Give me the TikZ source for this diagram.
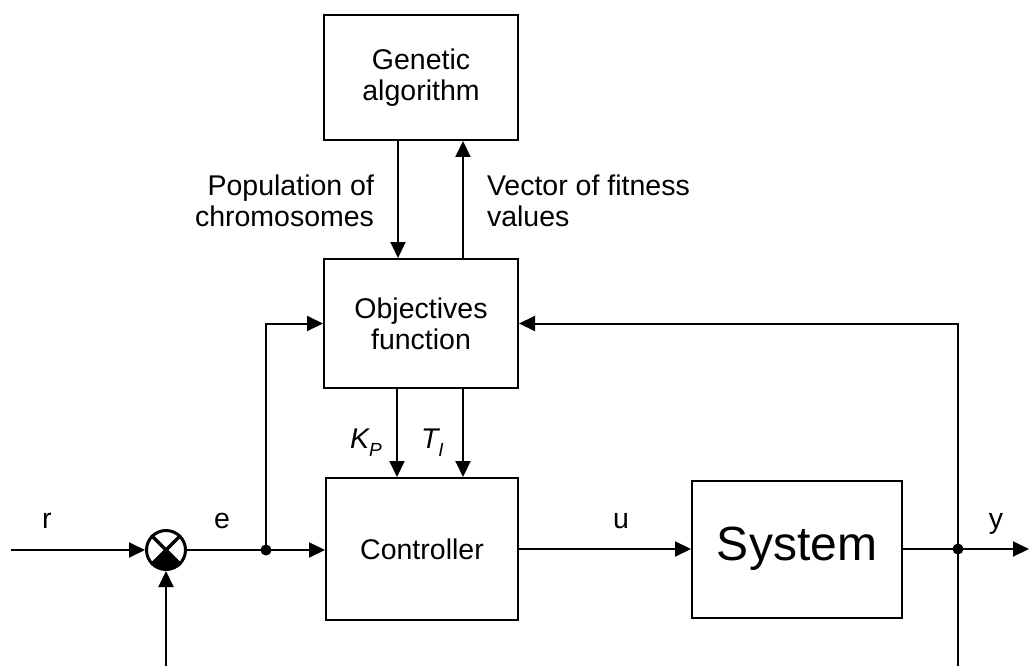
\documentclass[tikz,border=0pt]{standalone}
\usepackage{fontspec}
\setmainfont{Liberation Sans}
\usetikzlibrary{arrows.meta,calc}
\begin{document}
\begin{tikzpicture}[x=1pt,y=-1pt,
  line width=2pt,
  arr/.style={-{Triangle[length=16pt,width=15pt]}},
  blk/.style={draw,line width=2pt,rectangle,inner sep=0pt,align=center,font=\fontsize{28.5}{31}\selectfont},
  lbl/.style={inner sep=0pt,font=\fontsize{28.5}{31}\selectfont},
  dot/.style={circle,fill,inner sep=0pt,minimum size=11pt}]
\useasboundingbox (0,0) rectangle (1029,666);
% blocks
\node[blk,minimum width=194pt,minimum height=125pt] (ga) at (421,77.5) {Genetic\\algorithm};
\node[blk,minimum width=194pt,minimum height=129pt] (obj) at (421,323.5) {Objectives\\function};
\node[blk,minimum width=192pt,minimum height=142pt] (ctrl) at (422,549) {Controller};
\node[blk,minimum width=210pt,minimum height=137pt,font=\fontsize{48}{56}\selectfont] (sys) at (797,549) {System};
% summing junction
\node[circle,draw,line width=3pt,minimum size=39pt,inner sep=0pt] (sum) at (166,550) {};
\fill (sum.center) -- ($(sum.center)+(-45:19.5pt)$) arc[start angle=-45,end angle=-135,radius=19.5pt] -- cycle;
\draw[line width=3.5pt] (sum.north east) -- (sum.south west);
\draw[line width=3.5pt] (sum.north west) -- (sum.south east);
% coordinates
\coordinate (in) at (11,550);
\coordinate (ej) at (266,550);
\coordinate (yj) at (958,549);
\coordinate (out) at (1029,549);
\coordinate (fb1) at (166,666);
\coordinate (fb2) at (958,666);
% connectors
\draw[arr] (in) -- (sum.west);
\draw (sum.east) -- (ej);
\draw[arr] (ej) -- (ej -| ctrl.west);
\draw[arr] (ej) |- (obj.west);
\draw[arr] (ctrl.east |- sys.west) -- (sys.west);
\draw (sys.east) -- (yj);
\draw[arr] (yj) -- (out);
\draw[arr] (yj) |- (obj.east);
\draw (yj) -- (fb2);
\draw[arr] (fb1) -- (sum.south);
\draw[arr] ([xshift=-23pt]ga.south) -- ([xshift=-23pt]obj.north);
\draw[arr] ([xshift=42pt]obj.north) -- ([xshift=42pt]ga.south);
\draw[arr] ([xshift=-24pt]obj.south) -- ([xshift=-24pt]obj.south |- ctrl.north);
\draw[arr] ([xshift=42pt]obj.south) -- ([xshift=42pt]obj.south |- ctrl.north);
\node[dot] (d1) at (ej) {};
\node[dot] (d2) at (yj) {};
% labels
\node[lbl,anchor=base west] (lr) at (41,528) {r};
\node[lbl,anchor=base west] (le) at (213,528) {e};
\node[lbl,anchor=base] (lu) at (621,528) {u};
\node[lbl,anchor=base] (ly) at (996,528) {y};
\node[lbl,align=right,anchor=east] (lpop) at (375,201) {Population of\\chromosomes};
\node[lbl,align=left,anchor=west] (lvec) at (486,201) {Vector of fitness\\values};
\node[lbl,anchor=base west] (lkp) at (349,448) {\itshape K\raisebox{-8pt}{\fontsize{19}{19}\selectfont P}};
\node[lbl,anchor=base west] (lti) at (420,448) {\itshape T\raisebox{-8pt}{\fontsize{19}{19}\selectfont I}};
\end{tikzpicture}
\end{document}
